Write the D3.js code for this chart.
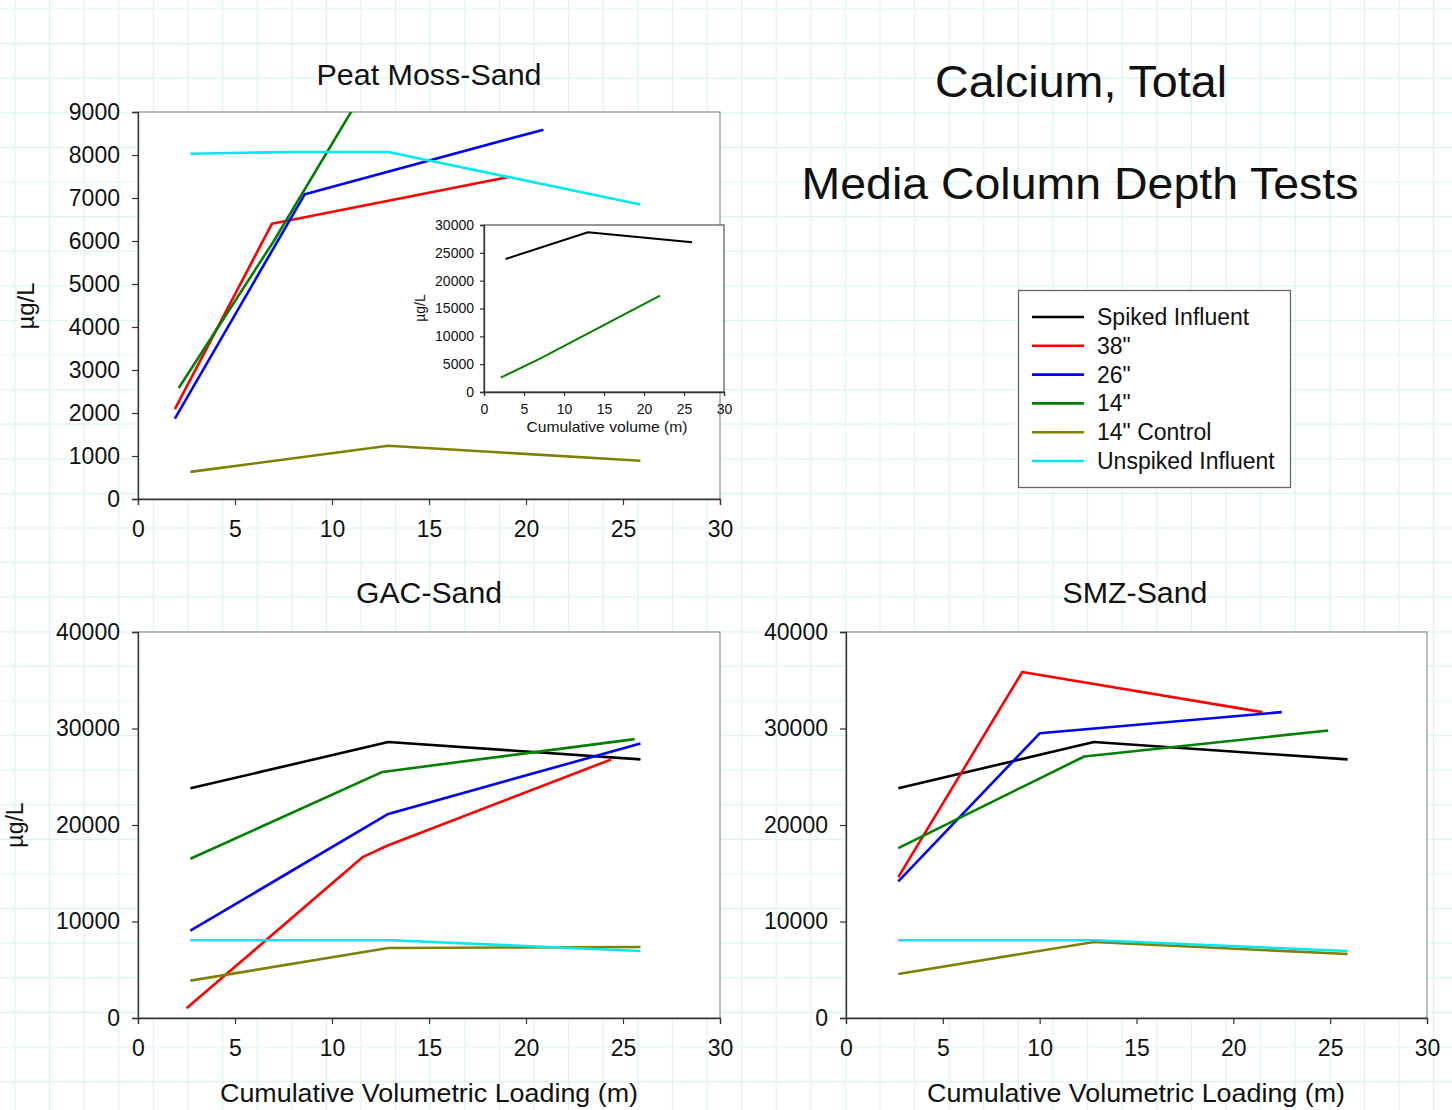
<!DOCTYPE html>
<html><head><meta charset="utf-8">
<script src="https://cdn.jsdelivr.net/npm/d3@7"></script>
<style>
html,body{margin:0;padding:0;background:#fff;}
svg{display:block;font-family:"Liberation Sans",Arial,sans-serif;}
</style></head>
<body>
<svg id="c" width="1452" height="1110"></svg>
<script>
// ---------- DATA ----------
const seriesNames = ["Spiked Influent", "38\"", "26\"", "14\"", "14\" Control", "Unspiked Influent"];
const xTicks = [0, 5, 10, 15, 20, 25, 30];
const peatYTicks = [0, 1000, 2000, 3000, 4000, 5000, 6000, 7000, 8000, 9000];
const insetYTicks = [0, 5000, 10000, 15000, 20000, 25000, 30000];
const bottomYTicks = [0, 10000, 20000, 30000, 40000];

// Peat Moss-Sand  [cumulative loading (m), µg/L]
const peatSpiked   = [[2.7, 23900], [13.0, 28700], [26.0, 26900]];
const peat38       = [[1.9, 2090], [6.9, 6400], [19.1, 7490]];
const peat26       = [[1.9, 1870], [8.6, 7090], [20.9, 8590]];
const peat14       = [[2.1, 2580], [7.0, 6000], [22.0, 17300]];
const peatControl  = [[2.7, 630], [12.9, 1240], [25.9, 890]];
const peatUnspiked = [[2.7, 8030], [7.8, 8070], [12.9, 8070], [25.9, 6850]];

// GAC-Sand
const gacSpiked   = [[2.7, 23800], [12.9, 28600], [25.9, 26800]];
const gac38       = [[2.5, 1000], [11.6, 16700], [12.9, 17900], [24.4, 26800]];
const gac26       = [[2.7, 9050], [12.9, 21150], [25.9, 28450]];
const gac14       = [[2.7, 16500], [12.6, 25500], [25.6, 28900]];
const gacControl  = [[2.7, 3870], [12.9, 7250], [25.9, 7360]];
const gacUnspiked = [[2.7, 8050], [13.1, 8050], [25.9, 6950]];

// SMZ-Sand
const smzSpiked   = [[2.7, 23800], [12.8, 28600], [25.9, 26800]];
const smz38       = [[2.7, 14600], [9.1, 35850], [21.5, 31700]];
const smz26       = [[2.7, 14150], [10.0, 29500], [22.5, 31700]];
const smz14       = [[2.7, 17600], [12.3, 27100], [24.9, 29800]];
const smzControl  = [[2.7, 4560], [12.8, 7880], [25.9, 6630]];
const smzUnspiked = [[2.7, 8050], [12.8, 8050], [25.9, 6950]];

// ---------- STYLE ----------
const colors = ["#000000", "#ff0000", "#0000ff", "#008000", "#808000", "#00e8f0"];
const FONT = "'Liberation Sans', Arial, sans-serif";

const svg = d3.select("#c");

// background faint grid
const bg = svg.append("g");
bg.append("rect").attr("width", 1452).attr("height", 1110).attr("fill", "#fff");
const gStep = 34.6;
d3.range(15, 1452, gStep).forEach(x => bg.append("line").attr("x1", x).attr("x2", x).attr("y1", 0).attr("y2", 1110).attr("stroke", "#d9f7f0").attr("stroke-width", 1.2));
d3.range(9, 1110, gStep).forEach(y => bg.append("line").attr("y1", y).attr("y2", y).attr("x1", 0).attr("x2", 1452).attr("stroke", "#d9f7f0").attr("stroke-width", 1.2));

let clipId = 0;
function panel(o) {
  const x = d3.scaleLinear().domain([0, 30]).range([o.x0, o.x1]);
  const y = d3.scaleLinear().domain([0, o.ymax]).range([o.y0, o.y1]);
  const g = svg.append("g");
  g.append("rect").attr("x", o.x0).attr("y", o.y1).attr("width", o.x1 - o.x0).attr("height", o.y0 - o.y1)
    .attr("fill", "#fff").attr("stroke", o.frame || "#7a7a7a").attr("stroke-width", 1);
  const id = "clip" + (clipId++);
  g.append("clipPath").attr("id", id).append("rect").attr("x", o.x0).attr("y", o.y1).attr("width", o.x1 - o.x0).attr("height", o.y0 - o.y1);

  const xa = g.append("g").attr("transform", `translate(0,${o.y0})`)
    .call(d3.axisBottom(x).tickValues(xTicks).tickFormat(d3.format("d")).tickSize(o.tick).tickPadding(o.xpad));
  const ya = g.append("g").attr("transform", `translate(${o.x0},0)`)
    .call(d3.axisLeft(y).tickValues(o.yTicks).tickFormat(d3.format("d")).tickSize(o.tick).tickPadding(o.ypad));
  [xa, ya].forEach(a => {
    a.select(".domain").attr("stroke", "#333").attr("stroke-width", 1.3);
    a.selectAll(".tick line").attr("stroke", "#333").attr("stroke-width", 1.2);
    a.selectAll("text").attr("font-family", FONT).attr("font-size", o.fs).attr("fill", "#111");
  });

  const line = d3.line().x(d => x(d[0])).y(d => y(d[1]));
  const lg = g.append("g").attr("clip-path", `url(#${id})`);
  o.series.forEach((s, i) => {
    if (!s) return;
    lg.append("path").datum(s).attr("d", line).attr("fill", "none")
      .attr("stroke", colors[i]).attr("stroke-width", o.lw).attr("stroke-linejoin", "round");
  });
  return g;
}

function text(x, y, t, fs, opts = {}) {
  const el = svg.append("text").attr("x", x).attr("y", y).text(t)
    .attr("font-family", FONT).attr("font-size", fs).attr("fill", "#111")
    .attr("text-anchor", opts.anchor || "middle");
  if (opts.len) el.attr("textLength", opts.len).attr("lengthAdjust", "spacingAndGlyphs");
  if (opts.rotate) el.attr("transform", `rotate(-90,${x},${y})`);
  return el;
}

// ---------- PANELS ----------
panel({ x0: 138, x1: 720, y0: 499, y1: 112, ymax: 9000, yTicks: peatYTicks, tick: 6, xpad: 16, ypad: 12, fs: 23, lw: 2.6,
  series: [peatSpiked, peat38, peat26, peat14, peatControl, peatUnspiked] });

panel({ x0: 138, x1: 720, y0: 1018, y1: 632, ymax: 40000, yTicks: bottomYTicks, tick: 6, xpad: 16, ypad: 12, fs: 23, lw: 2.6,
  series: [gacSpiked, gac38, gac26, gac14, gacControl, gacUnspiked] });

panel({ x0: 846, x1: 1427, y0: 1018, y1: 632, ymax: 40000, yTicks: bottomYTicks, tick: 6, xpad: 16, ypad: 12, fs: 23, lw: 2.6,
  series: [smzSpiked, smz38, smz26, smz14, smzControl, smzUnspiked] });

// inset (spiked influent & 14")
panel({ x0: 484, x1: 724, y0: 392, y1: 225, ymax: 30000, yTicks: insetYTicks, tick: 4, xpad: 8, ypad: 6, fs: 14, lw: 2, frame: "#333",
  series: [peatSpiked, null, null, peat14, null, null] });

// ---------- TEXT ----------
text(429, 85, "Peat Moss-Sand", 29, { len: 225 });
text(429, 603, "GAC-Sand", 29, { len: 146 });
text(1135, 603, "SMZ-Sand", 29, { len: 145 });
text(429, 1102, "Cumulative Volumetric Loading (m)", 26, { len: 418 });
text(1136, 1102, "Cumulative Volumetric Loading (m)", 26, { len: 418 });
text(34, 306, "µg/L", 24, { rotate: true });
text(23, 825, "µg/L", 23, { rotate: true });
text(425, 308, "µg/L", 14, { rotate: true });
text(607, 432, "Cumulative volume (m)", 15, { len: 161 });
text(1081, 97, "Calcium, Total", 45, { len: 292 });
text(1080, 199, "Media Column Depth Tests", 45, { len: 557 });

// ---------- LEGEND ----------
const leg = svg.append("g");
leg.append("rect").attr("x", 1018.5).attr("y", 290.5).attr("width", 272).attr("height", 197)
  .attr("fill", "#fff").attr("stroke", "#666").attr("stroke-width", 1.3);
seriesNames.forEach((n, i) => {
  const yy = 317 + i * 28.8;
  leg.append("line").attr("x1", 1032).attr("x2", 1084).attr("y1", yy).attr("y2", yy)
    .attr("stroke", colors[i]).attr("stroke-width", 2.6);
  leg.append("text").attr("x", 1097).attr("y", yy + 8).text(n)
    .attr("font-family", FONT).attr("font-size", 23).attr("fill", "#111");
});
</script>
</body></html>
